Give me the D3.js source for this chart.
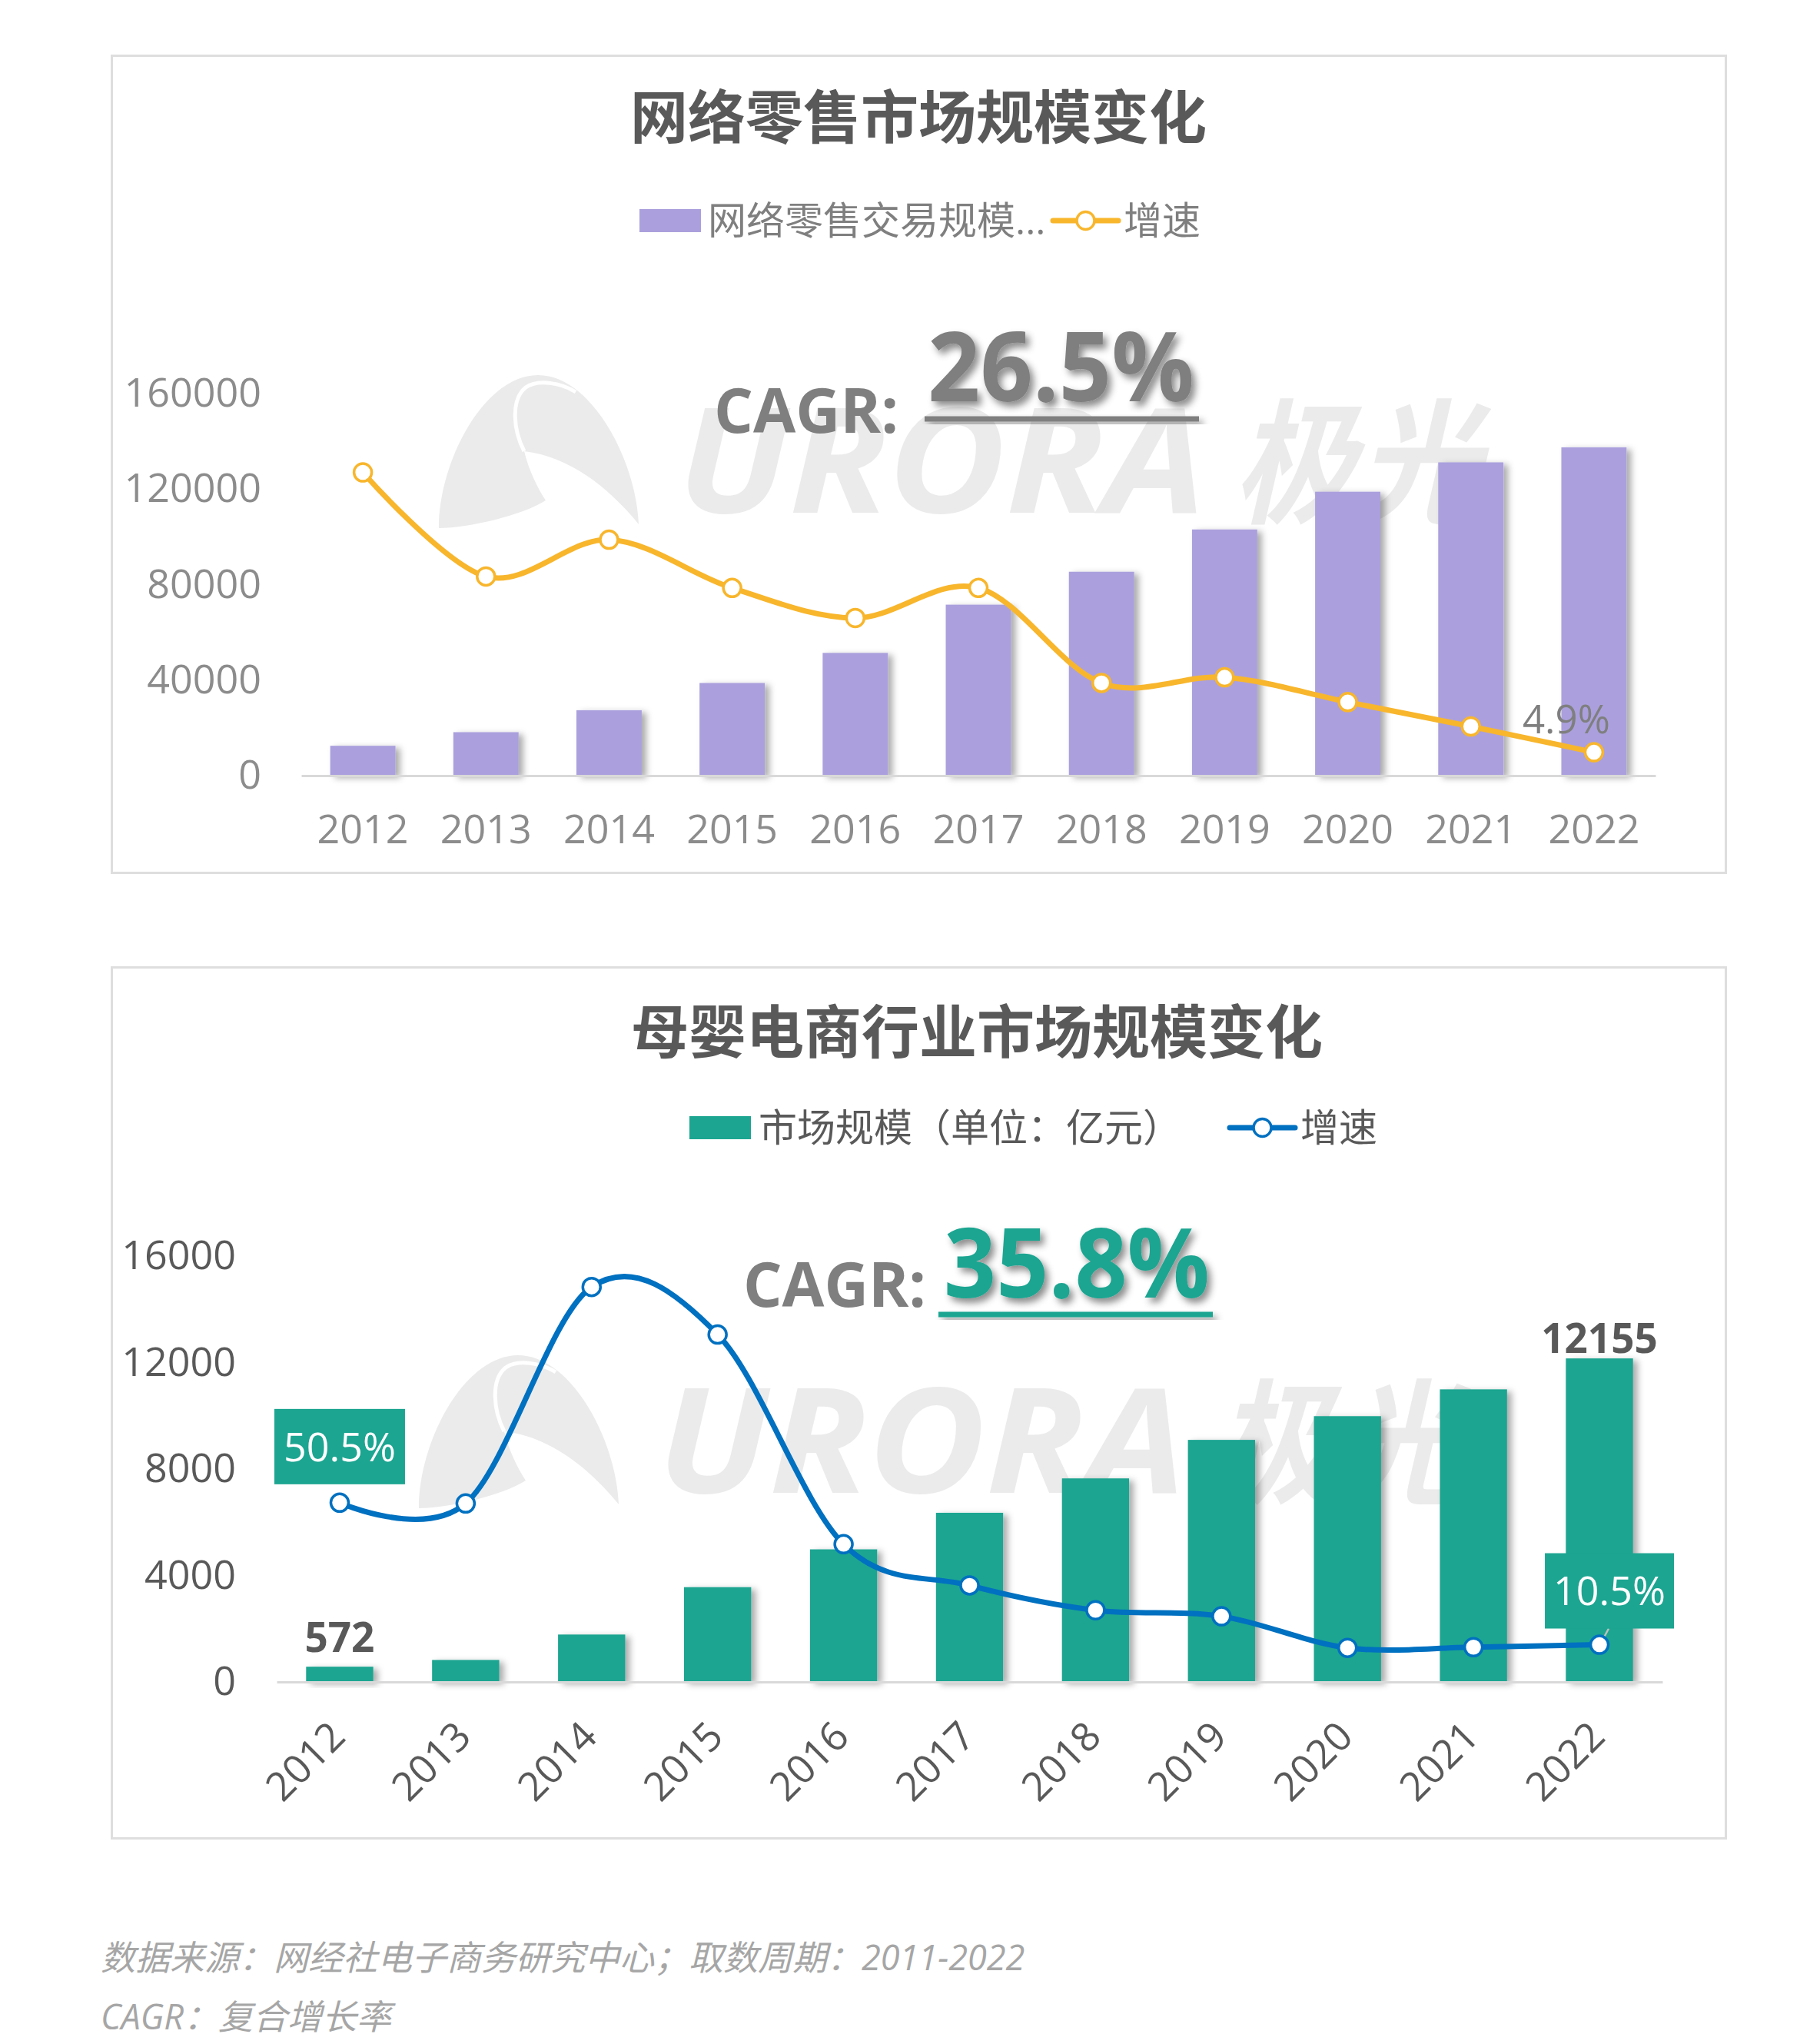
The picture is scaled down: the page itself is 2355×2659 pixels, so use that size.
<!DOCTYPE html>
<html><head><meta charset="utf-8">
<script src="https://cdn.jsdelivr.net/npm/d3@7"></script>
<style>
body{margin:0;background:#fff;}
svg text{font-family:"Open Sans","Noto Sans CJK SC",sans-serif;}
</style></head>
<body><svg id="c" width="2355" height="2659"></svg>
<script>
// ---------------- DATA ----------------
const years = ["2012","2013","2014","2015","2016","2017","2018","2019","2020","2021","2022"];
// chart 1: online retail
const retailTitle = "网络零售市场规模变化";
const retailBarName = "网络零售交易规模...";
const retailLineName = "增速";
const retailScale = [12500, 18200, 27400, 38800, 51400, 71600, 85400, 103100, 118900, 131200, 137500];
const retailGrowth = [63.5, 41.7, 49.4, 39.3, 33.0, 39.3, 19.4, 20.6, 15.4, 10.3, 4.9];
const retailTicks = [0, 40000, 80000, 120000, 160000];
const retailCAGR = "26.5%";
// chart 2: mother & baby e-commerce
const babyTitle = "母婴电商行业市场规模变化";
const babyBarName = "市场规模（单位：亿元）";
const babyLineName = "增速";
const babyScale = [572, 826, 1781, 3561, 4981, 6355, 7647, 9094, 9985, 10993, 12155];
const babyGrowth = [50.5, 50.3, 111.3, 97.9, 38.8, 27.2, 20.2, 18.5, 9.6, 9.8, 10.5];
const babyTicks = [0, 4000, 8000, 12000, 16000];
const babyCAGR = "35.8%";
const cagrLabel = "CAGR:";
const footer1 = "数据来源：网经社电子商务研究中心；取数周期：2011-2022";
const footer2 = "CAGR：复合增长率";

// ---------------- SETUP ----------------
const svg = d3.select("#c");
const defs = svg.append("defs");
function shadow(id, dx, dy, sd, op){
  defs.append("filter").attr("id", id).attr("x","-30%").attr("y","-30%").attr("width","170%").attr("height","170%")
    .append("feDropShadow").attr("dx",dx).attr("dy",dy).attr("stdDeviation",sd)
    .attr("flood-color","#000").attr("flood-opacity",op);
}
shadow("barShadow", 6, 3, 4, 0.33);
shadow("txtShadow", 5, 6, 5, 0.45);

const WM = "#ebebeb";
function watermark(g){
  g.append("path").attr("fill", WM)
   .attr("d","M571,687 C571,600 630,488 700,488 C770,488 828,600 831,682 C790,632 740,594 682,587 C688,612 700,636 710,651 C680,670 610,687 571,687 Z");
  g.append("path").attr("fill","none").attr("stroke","#fff").attr("stroke-width",5)
   .attr("d","M682,587 C668,560 664,520 684,504 C700,493 730,498 749,510");
  g.append("text").attr("x",881).attr("y",667).attr("font-size",190).attr("font-weight",700)
   .attr("font-style","italic").attr("fill",WM).attr("textLength",688).attr("lengthAdjust","spacingAndGlyphs").text("URORA");
  g.append("text").attr("x",1605).attr("y",667).attr("font-size",175).attr("font-weight",700)
   .attr("font-style","italic").attr("fill",WM).attr("textLength",321).attr("lengthAdjust","spacingAndGlyphs").text("极光");
}

function drawChart(c){
  const g = svg.append("g");
  g.append("rect").attr("x",c.panel[0]).attr("y",c.panel[1]).attr("width",c.panel[2]).attr("height",c.panel[3])
    .attr("fill","#fff").attr("stroke","#dedede").attr("stroke-width",3);
  watermark(g.append("g").attr("transform",`translate(${c.wm[0]},${c.wm[1]})`));

  // title
  g.append("text").attr("x",c.titleX).attr("y",c.titleY).attr("dy","0.36em").attr("text-anchor","middle")
    .attr("font-size",75).attr("font-weight",700).attr("fill","#595959").text(c.title);

  // legend
  const lg = g.append("g");
  lg.append("rect").attr("x",c.leg.rx).attr("y",c.leg.y-15).attr("width",80).attr("height",30).attr("fill",c.barColor);
  lg.append("text").attr("x",c.leg.tx).attr("y",c.leg.y).attr("dy","0.36em").attr("font-size",50)
    .attr("fill",c.legColor).text(c.barName);
  lg.append("line").attr("x1",c.leg.lx).attr("x2",c.leg.lx+85).attr("y1",c.leg.y).attr("y2",c.leg.y)
    .attr("stroke",c.lineColor).attr("stroke-width",7).attr("stroke-linecap","round");
  lg.append("circle").attr("cx",c.leg.lx+42.5).attr("cy",c.leg.y).attr("r",11.5).attr("fill","#fff")
    .attr("stroke",c.lineColor).attr("stroke-width",3.5);
  lg.append("text").attr("x",c.leg.lx+92).attr("y",c.leg.y).attr("dy","0.36em").attr("font-size",50)
    .attr("fill",c.legColor).text(c.lineName);

  // scales
  const x = d3.scaleBand().domain(years).range(c.xRange).paddingInner(c.pad).paddingOuter(c.pad/2);
  const y = d3.scaleLinear().domain([0, c.ticks[c.ticks.length-1]]).range(c.yRange);
  const yR = d3.scaleLinear().domain([0, c.rMax]).range(c.yRange);
  const cx = d => x(d) + x.bandwidth()/2;

  // y axis
  const ya = g.append("g").attr("transform",`translate(${c.xRange[0]},0)`)
    .call(d3.axisLeft(y).tickValues(c.ticks).tickSize(0).tickPadding(c.yPad).tickFormat(d3.format("d")));
  ya.select(".domain").remove();
  ya.selectAll("text").attr("font-size",52).attr("fill",c.axisColor).attr("font-family",null);

  // bars
  g.append("g").selectAll("rect").data(c.bars).join("rect")
    .attr("x",(d,i)=>x(years[i])).attr("width",x.bandwidth())
    .attr("y",d=>y(d)).attr("height",d=>y(0)-y(d))
    .attr("fill",c.barColor).attr("filter","url(#barShadow)");

  // x axis
  const xa = g.append("g").attr("transform",`translate(0,${c.yRange[0]})`)
    .call(d3.axisBottom(x).tickSize(0).tickSizeOuter(0).tickPadding(51));
  xa.select(".domain").attr("stroke","#d9d9d9").attr("stroke-width",3);
  xa.selectAll("text").attr("font-size",52).attr("fill",c.axisColor).attr("font-family",null);
  if (c.rotate){
    xa.selectAll("text").attr("x",0).attr("y",0).attr("dy",0).attr("text-anchor","end")
      .attr("transform",`translate(10,74) rotate(-45)`);
  }

  // line
  const line = d3.line().x((d,i)=>cx(years[i])).y(d=>yR(d)).curve(d3.curveCardinal.tension(0));
  g.append("path").datum(c.growth).attr("d",line).attr("fill","none")
    .attr("stroke",c.lineColor).attr("stroke-width",7).attr("stroke-linecap","round");
  if (c.after) c.after(g, x, y, yR, cx);
  g.append("g").selectAll("circle").data(c.growth).join("circle")
    .attr("cx",(d,i)=>cx(years[i])).attr("cy",d=>yR(d)).attr("r",11.5)
    .attr("fill","#fff").attr("stroke",c.lineColor).attr("stroke-width",3.5);
  if (c.labels) c.labels(g, x, y, yR, cx);

  // CAGR
  const cg = g.append("g");
  cg.append("text").attr("x",c.cagr.cx).attr("y",c.cagr.cy).attr("font-size",80).attr("font-weight",700)
    .attr("fill","#7f7f7f").attr("textLength",c.cagr.cw).attr("lengthAdjust","spacingAndGlyphs").text(cagrLabel);
  cg.append("text").attr("x",c.cagr.nx).attr("y",c.cagr.ny).attr("font-size",125).attr("font-weight",700)
    .attr("fill",c.cagr.color).attr("filter","url(#txtShadow)")
    .attr("textLength",c.cagr.nw).attr("lengthAdjust","spacingAndGlyphs").text(c.cagr.value);
  cg.append("rect").attr("x",c.cagr.ux).attr("y",c.cagr.uy-3.5).attr("width",c.cagr.uw).attr("height",7)
    .attr("fill",c.cagr.color).attr("filter","url(#txtShadow)");
}

// chart 1
drawChart({
  panel:[145.5,72.5,2100,1063], wm:[0,0],
  title:retailTitle, titleX:1195, titleY:153,
  barName:retailBarName, lineName:retailLineName,
  leg:{y:287, rx:832, tx:921, lx:1370},
  legColor:"#7f7f7f", axisColor:"#8c8c8c",
  barColor:"#aba0dd", lineColor:"#f8b62d",
  xRange:[392,2154], pad:0.47, yRange:[1009,512], ticks:retailTicks, rMax:80, yPad:52,
  bars:retailScale, growth:retailGrowth, rotate:false,
  labels:(g,x,y,yR,cx)=>{
    const i = years.length-1;
    g.append("text").attr("x",cx(years[i])-36).attr("y",yR(retailGrowth[i])-25)
      .attr("text-anchor","middle").attr("font-size",51).attr("fill","#7f7f7f")
      .text(retailGrowth[i].toFixed(1)+"%");
  },
  cagr:{cx:929,cy:563,cw:240,nx:1207,ny:522,nw:347,ux:1203,uy:545,uw:357,value:retailCAGR,color:"#7f7f7f"}
});

// chart 2
drawChart({
  panel:[145.5,1258.5,2100,1133], wm:[-26,1275],
  title:babyTitle, titleX:1271, titleY:1343,
  barName:babyBarName, lineName:babyLineName,
  leg:{y:1467, rx:897, tx:987, lx:1600},
  legColor:"#595959", axisColor:"#595959",
  barColor:"#1ca591", lineColor:"#0070c0",
  xRange:[360,2163], pad:0.467, yRange:[2188,1634], ticks:babyTicks, rMax:120, yPad:53,
  bars:babyScale, growth:babyGrowth, rotate:true,
  after:(g,x,y,yR,cx)=>{
    const i = years.length-1;
    g.append("line").attr("x1",cx(years[i])+12).attr("y1",yR(babyGrowth[i])-21)
      .attr("x2",cx(years[i])+2).attr("y2",yR(babyGrowth[i])-2)
      .attr("stroke","#bfbfbf").attr("stroke-width",2.5);
  },
  labels:(g,x,y,yR,cx)=>{
    const last = years.length-1;
    // growth boxes
    [[0,-85,170,24],[last,-71,168,21]].forEach(([i,ox,w,gap])=>{
      const py = yR(babyGrowth[i]);
      const bx = cx(years[i])+ox, by = py-gap-98;
      g.append("rect").attr("x",bx).attr("y",by).attr("width",w).attr("height",98).attr("fill","#1ca591");
      g.append("text").attr("x",bx+w/2).attr("y",by+49).attr("dy","0.36em").attr("text-anchor","middle")
        .attr("font-size",52).attr("fill","#fff").text(babyGrowth[i].toFixed(1)+"%");
    });
    // bar value labels
    [[0,19],[last,7]].forEach(([i,gap])=>{
      g.append("text").attr("x",cx(years[i])).attr("y",y(babyScale[i])-gap).attr("text-anchor","middle")
        .attr("font-size",53).attr("font-weight",700).attr("fill","#595959").text(babyScale[i]);
    });
  },
  cagr:{cx:967,cy:1700,cw:238,nx:1228,ny:1688,nw:346,ux:1221,uy:1710,uw:357,value:babyCAGR,color:"#1ca591"}
});

// footer
svg.append("text").attr("x",131).attr("y",2563).attr("font-size",45).attr("font-style","italic")
  .attr("fill","#a6a6a6").text(footer1);
svg.append("text").attr("x",131).attr("y",2640).attr("font-size",45).attr("font-style","italic")
  .attr("fill","#a6a6a6").text(footer2);
</script>
</body></html>
